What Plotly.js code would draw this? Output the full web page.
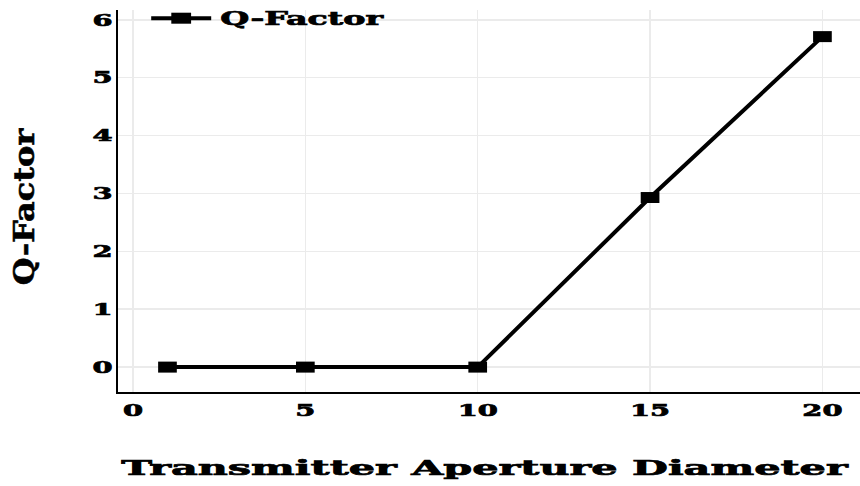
<!DOCTYPE html>
<html>
<head>
<meta charset="utf-8">
<script src="https://cdn.plot.ly/plotly-3.0.1.min.js"></script>
<style>
  html, body { margin: 0; padding: 0; background: #fff; }
  #chart { width: 860px; height: 486px; }
  .xtick text, .ytick text, .legendtext, .g-xtitle text, .g-ytitle text {
    stroke: #000; stroke-width: 0.7px; paint-order: stroke;
  }
</style>
</head>
<body>
<div id="chart"></div>
<script>
const seriesName = "Q-Factor";
const diameter = [1, 5, 10, 15, 20];
const qFactor = [0, 0, 0, 2.93, 5.71];
const xTickVals = [0, 5, 10, 15, 20];
const yTickVals = [0, 1, 2, 3, 4, 5, 6];
const xTitle = "Transmitter Aperture Diameter";
const yTitle = "Q-Factor";

const FONT = "DejaVu Serif, Liberation Serif, serif";

const trace = {
  x: diameter,
  y: qFactor,
  type: "scatter",
  mode: "lines+markers",
  name: seriesName,
  line: { color: "#000", width: 4 },
  marker: { symbol: "square", size: 11, color: "#000" }
};

const layout = {
  width: 860,
  height: 486,
  margin: { l: 118, r: 0, t: 10, b: 94 },
  paper_bgcolor: "#fff",
  plot_bgcolor: "#fff",
  font: { family: FONT, color: "#000", weight: "bold" },
  showlegend: true,
  legend: {
    x: 0.038, y: 0.979, xanchor: "left", yanchor: "middle",
    bgcolor: "rgba(0,0,0,0)",
    font: { family: FONT, size: 18, color: "#000", weight: "bold" },
    itemwidth: 60
  },
  xaxis: {
    range: [-0.435, 21.09],
    tickvals: xTickVals,
    ticks: "",
    ticklabelstandoff: 2,
    tickfont: { family: FONT, size: 16.5, color: "#000", weight: "bold" },
    showgrid: true, gridcolor: "#ebebeb", gridwidth: 1.5,
    zeroline: false,
    showline: true, linecolor: "#000", linewidth: 2,
    title: { text: xTitle, font: { family: FONT, size: 21, color: "#000", weight: "bold" }, standoff: 42 },
    automargin: false
  },
  yaxis: {
    range: [-0.43, 6.17],
    tickvals: yTickVals,
    ticks: "",
    ticklabelstandoff: 0,
    tickfont: { family: FONT, size: 16.5, color: "#000", weight: "bold" },
    showgrid: true, gridcolor: "#ebebeb", gridwidth: 1.5,
    zeroline: false,
    showline: true, linecolor: "#000", linewidth: 2,
    title: { text: yTitle, font: { family: FONT, size: 32, color: "#000", weight: "bold" }, standoff: 56 },
    automargin: false
  }
};

// Widen the glyphs horizontally (the reference uses a very wide display face)
function stretchText(selector, sx, sy, anchor, dx) {
  document.querySelectorAll(selector).forEach(function (el) {
    const bb = el.getBBox();
    let ox = bb.x + bb.width / 2;
    if (anchor === "start") ox = bb.x;
    if (anchor === "end") ox = bb.x + bb.width;
    const oy = bb.y + bb.height / 2;
    const old = el.getAttribute("transform") || "";
    el.setAttribute("transform",
      old + " translate(" + (ox + (dx || 0)) + "," + oy + ") scale(" + sx + "," + sy + ") translate(" + (-ox) + "," + (-oy) + ")");
  });
}
function stretchMarkers(selector, sx) {
  document.querySelectorAll(selector).forEach(function (el) {
    const old = el.getAttribute("transform") || "";
    el.setAttribute("transform", old + " scale(" + sx + ",1)");
  });
}

Plotly.newPlot("chart", [trace], layout, { displayModeBar: false, staticPlot: true }).then(function () {
  document.querySelectorAll(".legend [clip-path]").forEach(function (el) { el.removeAttribute("clip-path"); });
  stretchText(".xtick text", 1.75, 1, "middle", 0);
  stretchText(".ytick text", 1.75, 1, "end", 0);
  stretchText(".g-xtitle text", 1.97, 1, "middle", -4);
  stretchText(".g-ytitle text", 1, 0.87, "middle", -6);
  stretchText(".legendtext", 1.85, 1, "start", 4);
  stretchMarkers(".scatterlayer .point", 1.7);
  stretchMarkers(".legendpoints .scatterpts", 1.8);
});
</script>
</body>
</html>
